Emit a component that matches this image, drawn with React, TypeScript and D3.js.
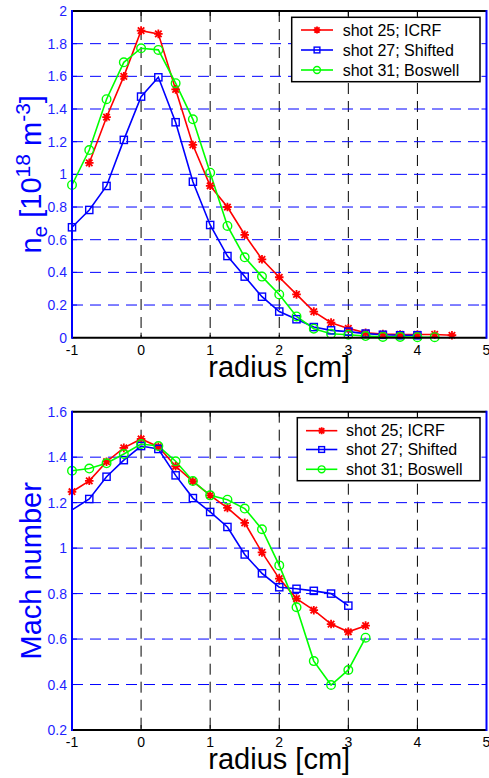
import React from "react";
import * as d3 from "d3";

// ---------- data ----------
const radiusTicks = [-1, 0, 1, 2, 3, 4, 5];
const densityTicks = [0, 0.2, 0.4, 0.6, 0.8, 1, 1.2, 1.4, 1.6, 1.8, 2];
const machTicks = [0.2, 0.4, 0.6, 0.8, 1, 1.2, 1.4, 1.6];

const seriesNames = ["shot 25; ICRF", "shot 27; Shifted", "shot 31; Boswell"];

// top panel: electron density [10^18 m^-3]
const neRadius25 = [-0.75, -0.5, -0.25, 0, 0.25, 0.5, 0.75, 1, 1.25, 1.5, 1.75, 2, 2.25, 2.5, 2.75, 3, 3.25, 3.5, 3.75, 4, 4.25, 4.5];
const neShot25 = [1.07, 1.35, 1.6, 1.88, 1.86, 1.52, 1.18, 0.93, 0.8, 0.63, 0.48, 0.37, 0.265, 0.16, 0.092, 0.057, 0.03, 0.022, 0.02, 0.02, 0.02, 0.015];
const neRadius27 = [-1, -0.75, -0.5, -0.25, 0, 0.25, 0.5, 0.75, 1, 1.25, 1.5, 1.75, 2, 2.25, 2.5, 2.75, 3, 3.25, 3.5, 3.75, 4];
const neShot27 = [0.676, 0.782, 0.929, 1.211, 1.476, 1.594, 1.319, 0.955, 0.69, 0.5, 0.374, 0.251, 0.16, 0.113, 0.065, 0.045, 0.037, 0.025, 0.018, 0.015, 0.015];
const neRadius31 = [-1, -0.75, -0.5, -0.25, 0, 0.25, 0.5, 0.75, 1, 1.25, 1.5, 1.75, 2, 2.25, 2.5, 2.75, 3, 3.25, 3.5, 3.75, 4, 4.25];
const neShot31 = [0.935, 1.149, 1.46, 1.686, 1.772, 1.762, 1.558, 1.337, 1.01, 0.684, 0.492, 0.374, 0.265, 0.13, 0.055, 0.024, 0.018, 0.01, 0.005, 0.005, 0.003, 0.003];

// bottom panel: Mach number
const machRadius25 = [-1, -0.75, -0.5, -0.25, 0, 0.25, 0.5, 0.75, 1, 1.25, 1.5, 1.75, 2, 2.25, 2.5, 2.75, 3, 3.25];
const machShot25 = [1.248, 1.296, 1.38, 1.441, 1.48, 1.446, 1.36, 1.294, 1.232, 1.177, 1.111, 0.981, 0.866, 0.778, 0.727, 0.666, 0.632, 0.659];
const machRadius27 = [-1.25, -0.75, -0.5, -0.25, 0, 0.25, 0.5, 0.75, 1, 1.25, 1.5, 1.75, 2, 2.25, 2.5, 2.75, 3];
const machShot27 = [1.12, 1.216, 1.314, 1.387, 1.449, 1.436, 1.32, 1.22, 1.159, 1.093, 0.972, 0.889, 0.828, 0.821, 0.812, 0.8, 0.747];
const machRadius31 = [-1, -0.75, -0.5, -0.25, 0, 0.25, 0.5, 0.75, 1, 1.25, 1.5, 1.75, 2, 2.25, 2.5, 2.75, 3, 3.25];
const machShot31 = [1.34, 1.35, 1.373, 1.414, 1.458, 1.449, 1.382, 1.295, 1.232, 1.213, 1.174, 1.083, 0.924, 0.74, 0.503, 0.398, 0.464, 0.606];

// ---------- styling ----------
const RED = "#ff0000";
const BLUE = "#0000ff";
const GREEN = "#00ff00";
const FONT = "'Liberation Sans', Arial, sans-serif";

type Marker = "star" | "square" | "circle";

function MarkerShape({ type, x, y, color, s = 1 }: { type: Marker; x: number; y: number; color: string; s?: number }) {
  if (type === "star") {
    const r = 4.3 * s;
    const d = r * 0.75;
    return (
      <path
        d={`M${x - r},${y}L${x + r},${y}M${x},${y - r}L${x},${y + r}M${x - d},${y - d}L${x + d},${y + d}M${x - d},${y + d}L${x + d},${y - d}`}
        stroke={color}
        strokeWidth={1.8}
        fill="none"
      />
    );
  }
  if (type === "square") {
    const h = 3.6 * s;
    return <rect x={x - h} y={y - h} width={2 * h} height={2 * h} stroke={color} strokeWidth={1.4} fill="none" />;
  }
  return <circle cx={x} cy={y} r={4.3 * s} stroke={color} strokeWidth={1.4} fill="none" />;
}

type Series = { xs: number[]; ys: number[]; color: string; marker: Marker };

function Panel({
  id,
  top,
  bottom,
  yDomain,
  yTicks,
  series,
  yLabel,
  legendBox,
}: {
  id: string;
  top: number;
  bottom: number;
  yDomain: [number, number];
  yTicks: number[];
  series: Series[];
  yLabel: React.ReactNode;
  legendBox: { x0: number; x1: number; y0: number; y1: number; rows: number[]; lineX0: number; lineX1: number; textX: number };
}) {
  const left = 72;
  const right = 486.5;
  const x = d3.scaleLinear().domain([-1, 5]).range([left, right]);
  const y = d3.scaleLinear().domain(yDomain).range([bottom, top]);
  const line = d3
    .line<[number, number]>()
    .x((d) => x(d[0]))
    .y((d) => y(d[1]));
  const tickLen = 5;
  const fmt = (v: number) => String(Math.round(v * 10) / 10);

  return (
    <g>
      <defs>
        <clipPath id={`clip-${id}`}>
          <rect x={left} y={top} width={right - left} height={bottom - top} />
        </clipPath>
      </defs>
      {/* grid */}
      {radiusTicks.slice(1, -1).map((t) => (
        <line key={`vx${t}`} x1={x(t)} x2={x(t)} y1={top} y2={bottom} stroke="#000" strokeWidth={1} strokeDasharray="11,7" />
      ))}
      {yTicks.slice(1, -1).map((t) => (
        <line key={`hy${t}`} x1={left} x2={right} y1={y(t)} y2={y(t)} stroke={BLUE} strokeWidth={1} strokeDasharray="11,7" />
      ))}
      {/* ticks inside */}
      {radiusTicks.map((t) => (
        <g key={`xt${t}`}>
          <line x1={x(t)} x2={x(t)} y1={bottom} y2={bottom - tickLen} stroke="#000" strokeWidth={1} />
          <line x1={x(t)} x2={x(t)} y1={top} y2={top + tickLen} stroke="#000" strokeWidth={1} />
          <text x={x(t)} y={bottom + 17} textAnchor="middle" fontFamily={FONT} fontSize={14} fill="#000">
            {t}
          </text>
        </g>
      ))}
      {yTicks.map((t) => (
        <g key={`yt${t}`}>
          <line x1={left} x2={left + tickLen} y1={y(t)} y2={y(t)} stroke={BLUE} strokeWidth={1} />
          <line x1={right} x2={right - tickLen} y1={y(t)} y2={y(t)} stroke={BLUE} strokeWidth={1} />
          <text x={67} y={y(t) + 5} textAnchor="end" fontFamily={FONT} fontSize={14} fill="#1f1fff">
            {fmt(t)}
          </text>
        </g>
      ))}
      {/* data lines */}
      <g clipPath={`url(#clip-${id})`}>
        {series.map((s, i) => (
          <path
            key={`l${i}`}
            d={line(s.xs.map((v, j) => [v, s.ys[j]] as [number, number])) || ""}
            stroke={s.color}
            strokeWidth={1.6}
            fill="none"
          />
        ))}
      </g>
      {series.map((s, i) => (
        <g key={`m${i}`}>
          {s.xs.map((v, j) =>
            v >= -1 && v <= 5 ? <MarkerShape key={j} type={s.marker} x={x(v)} y={y(s.ys[j])} color={s.color} /> : null
          )}
        </g>
      ))}
      {/* axes box */}
      <line x1={left} x2={right} y1={top} y2={top} stroke="#000" strokeWidth={2} />
      <line x1={left} x2={right} y1={bottom} y2={bottom} stroke="#000" strokeWidth={2} />
      <line x1={left} x2={left} y1={top - 1} y2={bottom + 1} stroke={BLUE} strokeWidth={2} />
      <line x1={right} x2={right} y1={top - 1} y2={bottom + 1} stroke={BLUE} strokeWidth={2} />
      {/* x label */}
      <text x={(left + right) / 2} y={bottom + 39} textAnchor="middle" fontFamily={FONT} fontSize={29} fill="#000">
        radius [cm]
      </text>
      {/* y label */}
      <text
        transform={`translate(41,${(top + bottom) / 2}) rotate(-90)`}
        textAnchor="middle"
        fontFamily={FONT}
        fontSize={29}
        fill={BLUE}
      >
        {yLabel}
      </text>
      {/* legend */}
      <rect
        x={legendBox.x0}
        y={legendBox.y0}
        width={legendBox.x1 - legendBox.x0}
        height={legendBox.y1 - legendBox.y0}
        fill="#fff"
        stroke="#000"
        strokeWidth={1.5}
      />
      {series.map((s, i) => {
        const ry = legendBox.rows[i];
        const mx = (legendBox.lineX0 + legendBox.lineX1) / 2;
        return (
          <g key={`lg${i}`}>
            <line x1={legendBox.lineX0} x2={legendBox.lineX1} y1={ry} y2={ry} stroke={s.color} strokeWidth={1.6} />
            <MarkerShape type={s.marker} x={mx} y={ry} color={s.color} s={0.8} />
            <text x={legendBox.textX} y={ry + 5.5} fontFamily={FONT} fontSize={16} fill="#000">
              {seriesNames[i]}
            </text>
          </g>
        );
      })}
    </g>
  );
}

export default function App() {
  const topSeries: Series[] = [
    { xs: neRadius25, ys: neShot25, color: RED, marker: "star" },
    { xs: neRadius27, ys: neShot27, color: BLUE, marker: "square" },
    { xs: neRadius31, ys: neShot31, color: GREEN, marker: "circle" },
  ];
  const bottomSeries: Series[] = [
    { xs: machRadius25, ys: machShot25, color: RED, marker: "star" },
    { xs: machRadius27, ys: machShot27, color: BLUE, marker: "square" },
    { xs: machRadius31, ys: machShot31, color: GREEN, marker: "circle" },
  ];
  return (
    <svg
      width={489}
      height={778}
      viewBox="0 0 489 778"
      style={{ position: "absolute", left: 0, top: 0, background: "#fff" }}
    >
      <rect x={0} y={0} width={489} height={778} fill="#fff" />
      <Panel
        id="top"
        top={11}
        bottom={337.7}
        yDomain={[0, 2]}
        yTicks={densityTicks}
        series={topSeries}
        yLabel={
          <>
            <tspan>n</tspan>
            <tspan fontSize={21} dy={6}>e</tspan>
            <tspan dy={-6}> [10</tspan>
            <tspan fontSize={21} dy={-11}>18</tspan>
            <tspan dy={11}> m</tspan>
            <tspan fontSize={21} dy={-11}>-3</tspan>
            <tspan dy={11}>]</tspan>
          </>
        }
        legendBox={{ x0: 291.7, x1: 480, y0: 17.3, y1: 81.7, rows: [30, 50, 70], lineX0: 301, lineX1: 333, textX: 342.7 }}
      />
      <Panel
        id="bottom"
        top={411.7}
        bottom={730}
        yDomain={[0.2, 1.6]}
        yTicks={machTicks}
        series={bottomSeries}
        yLabel={<tspan>Mach number</tspan>}
        legendBox={{ x0: 297.3, x1: 480, y0: 417.7, y1: 480.7, rows: [430.7, 449.5, 469.3], lineX0: 306, lineX1: 337.3, textX: 346 }}
      />
    </svg>
  );
}
